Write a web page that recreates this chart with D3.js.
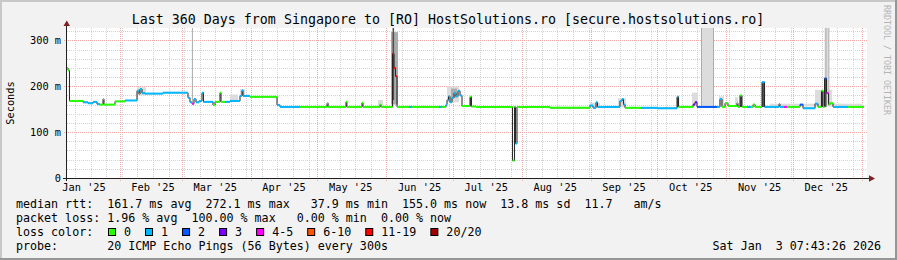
<!DOCTYPE html>
<html>
<head>
<meta charset="utf-8">
<script src="https://cdn.jsdelivr.net/npm/d3@7"></script>
<style>
  html, body { margin: 0; padding: 0; background: #f2f2f2; }
  svg text { font-family: "DejaVu Sans Mono", monospace; white-space: pre; }
</style>
</head>
<body>
<svg id="chart" width="897" height="260"></svg>
<script>
// ========== Data ==========

const START = Date.UTC(2025, 0, 8, 7, 43, 26);
const END = Date.UTC(2026, 0, 3, 7, 43, 26);
const DAY = 864e5;

// median rtt steps: day offset from START, value in ms
const medianDays = [0, 0.45, 1.1, 7.2, 9.45, 11.7, 13.5, 14.85, 16.2, 16.65, 21.6, 26.1,
  31.5, 32.4, 32.85, 33.75, 35.1, 43.2, 54.45, 55.35, 56.25, 57.15, 58.05, 59.4, 60.75, 61.4,
  65.7, 66.6, 68.85, 69.3, 73.35, 77.85, 78.75, 79.2, 82.35, 94.5, 95.85,
  117.0, 117.5, 125.55, 125.95, 132.75, 133.2, 140.85, 141.3,
  146.5, 147.15, 147.8, 148.5, 170.55, 171.0, 171.7, 172.35, 173.25, 174.15, 175.05, 175.95,
  176.85, 177.75, 181.35, 182.0, 184.05, 200.5, 201.4, 201.85, 202.5, 217.35,
  235.35, 236.7, 238.05, 238.7, 248.85, 249.75, 250.4, 251.1, 265.5, 274.5, 275.2,
  281.7, 282.6, 283.5, 293.85, 294.75, 296.1, 297.45, 301.5, 301.95, 302.85, 303.75,
  308.7, 309.6, 312.75, 313.9, 320.4, 320.85, 329.85, 331.2, 336.6, 337.95,
  339.5, 340.2, 340.9, 341.8, 342.7, 343.35, 344.7, 358.65];
const medianMs = [240, 235, 168, 165, 163, 166, 161, 160, 172, 160, 167, 169,
  190, 183, 194, 185, 184, 186, 175, 165, 162, 172, 165, 168, 186, 166,
  159, 166, 186, 166, 168, 179, 191, 179, 177, 159, 155,
  163, 155, 166, 155, 164, 155, 160, 155,
  271, 240, 222, 155, 160, 170, 178, 165, 175, 185, 178, 190,
  180, 157, 177, 156, 155, 38, 155, 75, 155, 153,
  158, 153, 165, 155, 168, 172, 160, 153, 152, 177, 155,
  160, 165, 155, 172, 155, 163, 157, 163, 155, 180, 155,
  160, 155, 209, 155, 161, 155, 160, 152, 162, 155,
  190, 155, 217, 185, 160, 163, 155, 155];

// loss bucket changes: day offset, bucket index into lossLabels
const lossDays = [0, 7.2, 14.85, 26.1, 56.25, 57.15, 65.7, 71.1, 82.35, 94.5, 104.85,
  146.5, 148.5, 153.9, 155.25, 167.4, 168.75, 170.55, 177.75, 201.85, 202.5,
  235.35, 251.1, 258.3, 275.2, 281.7, 283.5, 292.5, 294.75, 306, 307.8,
  312.75, 322.65, 324.0, 329.85, 331.2, 337.95, 340.9, 341.8, 342.7, 344.7, 351.45];
const lossBucket = [0, 1, 0, 1, 4, 1, 0, 1, 0, 1, 0,
  6, 0, 1, 0, 1, 0, 1, 0, 1, 0,
  1, 0, 1, 0, 3, 2, 1, 0, 1, 0,
  1, 4, 0, 2, 1, 0, 2, 4, 0, 1, 0];

const lossLabels = ['0', '1', '2', '3', '4-5', '6-10', '11-19', '20/20'];
const lossColors = ['#26ff00', '#00b8ff', '#0059ff', '#7e00ff', '#ff00ff', '#ff5500', '#ff0000', '#a10000'];

// smoke: [day from, day to, low ms, high ms, shade]
const smoke = [
  [31.5, 35.55, 180, 198, 0], [56.2, 56.6, 165, 327, 1], [73.35, 76.95, 166, 182, 0],
  [77.85, 80.1, 180, 194, 0], [139.95, 142.2, 156, 170, 0], [145.8, 148.95, 160, 318, 1],
  [146.5, 147.2, 170, 327, 2], [171.0, 176.5, 165, 200, 0], [172.8, 175.5, 175, 195, 1],
  [181.35, 182.0, 156, 177, 2],
  [235.35, 239.85, 154, 164, 0], [247.95, 251.55, 154, 174, 0], [274.5, 275.2, 155, 177, 2],
  [281.25, 283.95, 157, 186, 0], [285.3, 291.15, 157, 327, 0], [285.3, 285.75, 157, 327, 1],
  [290.7, 291.15, 157, 327, 1], [293.4, 295.65, 158, 178, 0], [300.6, 301.95, 158, 176, 0],
  [302.85, 303.75, 155, 180, 2], [312.75, 313.9, 155, 209, 2], [316.35, 358.2, 156, 162, 0],
  [336.6, 344.25, 158, 192, 0], [340.9, 342.7, 160, 327, 0], [341.3, 341.7, 160, 327, 1],
  [342.6, 343.0, 160, 327, 1], [339.5, 340.2, 155, 190, 2], [340.9, 341.8, 155, 217, 2]
];
const smokeShades = ['#dcdcdc', '#ababab', '#505050'];

const yTicks = [0, 100, 200, 300];
const yTickLabels = ['0', '100 m', '200 m', '300 m'];

const title = 'Last 360 Days from Singapore to [RO] HostSolutions.ro [secure.hostsolutions.ro]';
const legendLines = [
  'median rtt:  161.7 ms avg  272.1 ms max   37.9 ms min  155.0 ms now  13.8 ms sd  11.7   am/s',
  'packet loss: 1.96 % avg  100.00 % max   0.00 % min  0.00 % now',
  'loss color:',
  'probe:       20 ICMP Echo Pings (56 Bytes) every 300s'
];
const stamp = 'Sat Jan  3 07:43:26 2026';

// ========== Scales ==========

const svg = d3.select('#chart');
const x = d3.scaleUtc().domain([START, END]).range([67, 867]);
const y = d3.scaleLinear().domain([0, 327]).range([178, 28]);
const xd = (d) => x(START + d * DAY);
const px = (v) => Math.round(v) + 0.5;

// ========== Frame and canvas ==========

svg.append('rect').attr('width', 897).attr('height', 260).attr('fill', '#f2f2f2');
svg.append('rect').attr('width', 897).attr('height', 2).attr('fill', '#c8c8c8');
svg.append('rect').attr('width', 2).attr('height', 260).attr('fill', '#c8c8c8');
svg.append('rect').attr('y', 258).attr('width', 897).attr('height', 2).attr('fill', '#969696');
svg.append('rect').attr('x', 895).attr('width', 2).attr('height', 260).attr('fill', '#969696');
svg.append('rect').attr('x', 67).attr('y', 28).attr('width', 800).attr('height', 150).attr('fill', '#fff');

// ========== Grid ==========

const grid = svg.append('g').attr('fill', 'none').attr('stroke-width', 1).attr('stroke-dasharray', '1,1');
const minorCol = '#d2d2d2';
const majorCol = '#f0a8a8';

const minorY = d3.range(20, 327, 20).filter((v) => v % 100 !== 0);
grid.selectAll('.hmin').data(minorY).join('line')
  .attr('x1', 67).attr('x2', 867).attr('y1', (d) => px(y(d))).attr('y2', (d) => px(y(d)))
  .attr('stroke', minorCol);

const weeks = d3.utcSunday.range(START, END);
grid.selectAll('.vmin').data(weeks).join('line')
  .attr('x1', (d) => px(x(d))).attr('x2', (d) => px(x(d))).attr('y1', 28).attr('y2', 178)
  .attr('stroke', minorCol);

grid.selectAll('.hmaj').data(yTicks.filter((v) => v > 0)).join('line')
  .attr('x1', 64).attr('x2', 867).attr('y1', (d) => px(y(d))).attr('y2', (d) => px(y(d)))
  .attr('stroke', majorCol);

const months = d3.utcMonth.range(START, END);
grid.selectAll('.vmaj').data(months).join('line')
  .attr('x1', (d) => px(x(d))).attr('x2', (d) => px(x(d))).attr('y1', 28).attr('y2', 181)
  .attr('stroke', majorCol);

// ========== Smoke ==========

svg.append('g').selectAll('rect').data(smoke).join('rect')
  .attr('x', (d) => xd(d[0]))
  .attr('width', (d) => Math.max(1, xd(d[1]) - xd(d[0])))
  .attr('y', (d) => y(d[3]))
  .attr('height', (d) => y(d[2]) - y(d[3]))
  .attr('fill', (d) => smokeShades[d[4]]);

// ========== Median line ==========

const points = medianDays.map((d, i) => [d, medianMs[i]]);

svg.append('path')
  .attr('d', d3.line().x((p) => xd(p[0])).y((p) => y(p[1])).curve(d3.curveStepAfter)(points))
  .attr('fill', 'none').attr('stroke', '#202020').attr('stroke-width', 1);

// horizontal pieces coloured by loss bucket
const runs = lossDays.map((d, i) => ({
  d0: d,
  d1: i < lossDays.length - 1 ? lossDays[i + 1] : medianDays[medianDays.length - 1],
  b: lossBucket[i]
}));

const segments = [];
for (let i = 0; i < points.length - 1; i++) {
  const s0 = points[i][0], s1 = points[i + 1][0], v = points[i][1];
  runs.forEach((r) => {
    const a = Math.max(s0, r.d0), b = Math.min(s1, r.d1);
    if (b > a) segments.push({ a, b, v, c: lossColors[r.b] });
  });
}

svg.append('g').selectAll('line').data(segments).join('line')
  .attr('x1', (s) => xd(s.a)).attr('x2', (s) => Math.max(xd(s.b), xd(s.a) + 1))
  .attr('y1', (s) => y(s.v)).attr('y2', (s) => y(s.v))
  .attr('stroke', (s) => s.c).attr('stroke-width', 2);

// ========== Axes ==========

svg.append('line').attr('x1', 66.5).attr('x2', 66.5).attr('y1', 181).attr('y2', 25)
  .attr('stroke', '#1f1f1f');
svg.append('path').attr('d', 'M63.5,26 L70,26 L66.75,20.5 Z').attr('fill', '#801f1f');
svg.append('line').attr('x1', 63).attr('x2', 870).attr('y1', 178.5).attr('y2', 178.5)
  .attr('stroke', '#1f1f1f');
svg.append('path').attr('d', 'M869,175.3 L869,181.7 L875,178.5 Z').attr('fill', '#801f1f');

// y labels
svg.append('g').selectAll('text').data(yTicks).join('text')
  .attr('x', 61).attr('y', (d) => y(d) + 3.7)
  .attr('text-anchor', 'end').attr('font-size', '10.3px').attr('fill', '#000')
  .text((d, i) => yTickLabels[i]);

// x labels, centred in the middle of each month
const monthLabels = d3.utcMonth.range(d3.utcMonth.floor(START), END)
  .map((m) => new Date(+m + 15 * DAY))
  .filter((c) => c >= START && c <= END);
const fmt = d3.utcFormat("%b '%y");
svg.append('g').selectAll('text').data(monthLabels).join('text')
  .attr('x', (d) => x(d)).attr('y', 191)
  .attr('text-anchor', 'middle').attr('font-size', '10.3px').attr('fill', '#000')
  .text((d) => fmt(new Date(+d - 15 * DAY)));

svg.append('text').attr('transform', 'translate(14,103) rotate(-90)')
  .attr('text-anchor', 'middle').attr('font-size', '10.3px').text('Seconds');

// title
svg.append('text').attr('x', 448).attr('y', 24).attr('text-anchor', 'middle')
  .attr('font-size', '13.3px').text(title);

// watermark
svg.append('text').attr('transform', 'translate(884,5) rotate(90)')
  .attr('font-size', '8.3px').attr('fill', '#b4b4b4').text('RRDTOOL / TOBI OETIKER');

// ========== Legend ==========

svg.append('g').selectAll('text').data(legendLines).join('text')
  .attr('x', 16).attr('y', (d, i) => 208 + i * 14)
  .attr('font-size', '11.66px').text((d) => d);

let bx = 108;
lossLabels.forEach((lab, i) => {
  svg.append('rect').attr('x', bx + 0.5).attr('y', 228.5).attr('width', 7).attr('height', 7)
    .attr('fill', lossColors[i]).attr('stroke', '#000');
  const t = svg.append('text').attr('x', bx + 16).attr('y', 236)
    .attr('font-size', '11.66px').text(lab);
  bx += 16 + t.node().getComputedTextLength() + 14;
});

svg.append('text').attr('x', 881).attr('y', 250).attr('text-anchor', 'end')
  .attr('font-size', '11.66px').text(stamp);
</script>
</body>
</html>
